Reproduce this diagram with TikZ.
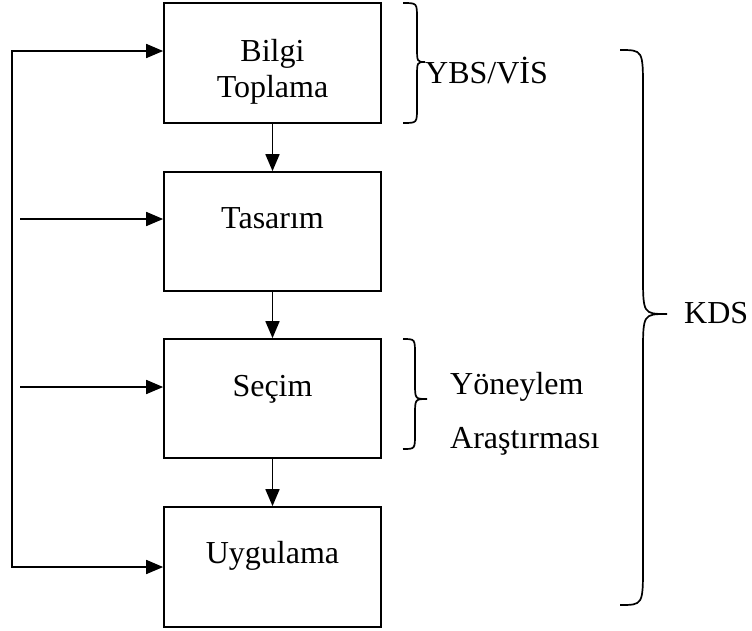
\documentclass[tikz,border=0pt]{standalone}
\usepackage{fontspec}
\setmainfont{Liberation Serif}
\usetikzlibrary{arrows.meta}
\begin{document}
\begin{tikzpicture}[x=1pt,y=-1pt,
  stagebox/.style={draw, line width=1.7pt, minimum width=217pt, minimum height=120pt, inner sep=0pt},
  lbl/.style={font=\fontsize{32}{38}\selectfont, inner sep=0pt, anchor=base},
  side/.style={font=\fontsize{32}{38}\selectfont, inner sep=0pt, anchor=base west},
  tip/.style={Triangle[length=17pt,width=14pt]},
  arr/.style={line width=1.7pt, -{Triangle[length=17pt,width=14pt]}},
  brace/.style={line width=1.7pt}]
\useasboundingbox (0,0) rectangle (752,630);

% process stages
\node[stagebox] (b1) at (272.5,63) {};
\node[stagebox, minimum height=119pt] (b2) at (272.5,231.5) {};
\node[stagebox, minimum height=119pt] (b3) at (272.5,398.5) {};
\node[stagebox] (b4) at (272.5,567) {};

\node[lbl] (t1a) at (272.5,61) {Bilgi};
\node[lbl] (t1b) at (272.5,97) {Toplama};
\node[lbl] (t2) at (272.5,228) {Tasarım};
\node[lbl] (t3) at (272.5,396) {Seçim};
\node[lbl] (t4) at (272.5,563) {Uygulama};

% flow between stages
\draw[arr] (b1.south) -- (b2.north);
\draw[arr] (b2.south) -- (b3.north);
\draw[arr] (b3.south) -- (b4.north);

% inputs from the left
\coordinate (in2) at (20,219);
\coordinate (in3) at (20,387);
\draw[arr] (in2) -- (in2 -| b2.west);
\draw[arr] (in3) -- (in3 -| b3.west);

% feedback loop from implementation back to information gathering
\coordinate (lpb) at (12,567);
\coordinate (lpt) at (12,51);
\draw[line width=1.7pt, {Triangle[length=17pt,width=14pt]}-{Triangle[length=17pt,width=14pt]}]
  (lpb -| b4.west) -- (lpb) -- (lpt) -- (lpt -| b1.west);

% braces
\draw[brace] (403,3) .. controls (417,3) .. (417,18) -- (417,46)
  .. controls (417,62) .. (425,62) .. controls (417,62) .. (417,78)
  -- (417,108) .. controls (417,123) .. (403,123);
\draw[brace] (403,339) .. controls (415,339) .. (415,354) -- (415,383)
  .. controls (415,399) .. (427,399) .. controls (415,399) .. (415,415)
  -- (415,434) .. controls (415,449) .. (403,449);
\draw[brace] (620,50) .. controls (643,50) .. (643,90) -- (643,274)
  .. controls (643,314) .. (667,314) .. controls (643,314) .. (643,354)
  -- (643,565) .. controls (643,605) .. (620,605);

\node[side] (ybs) at (425,83) {YBS/VİS};
\node[side] (yon) at (450,394) {Yöneylem};
\node[side] (ara) at (450,448) {Araştırması};
\node[side] (kds) at (684,323) {KDS};
\end{tikzpicture}
\end{document}
